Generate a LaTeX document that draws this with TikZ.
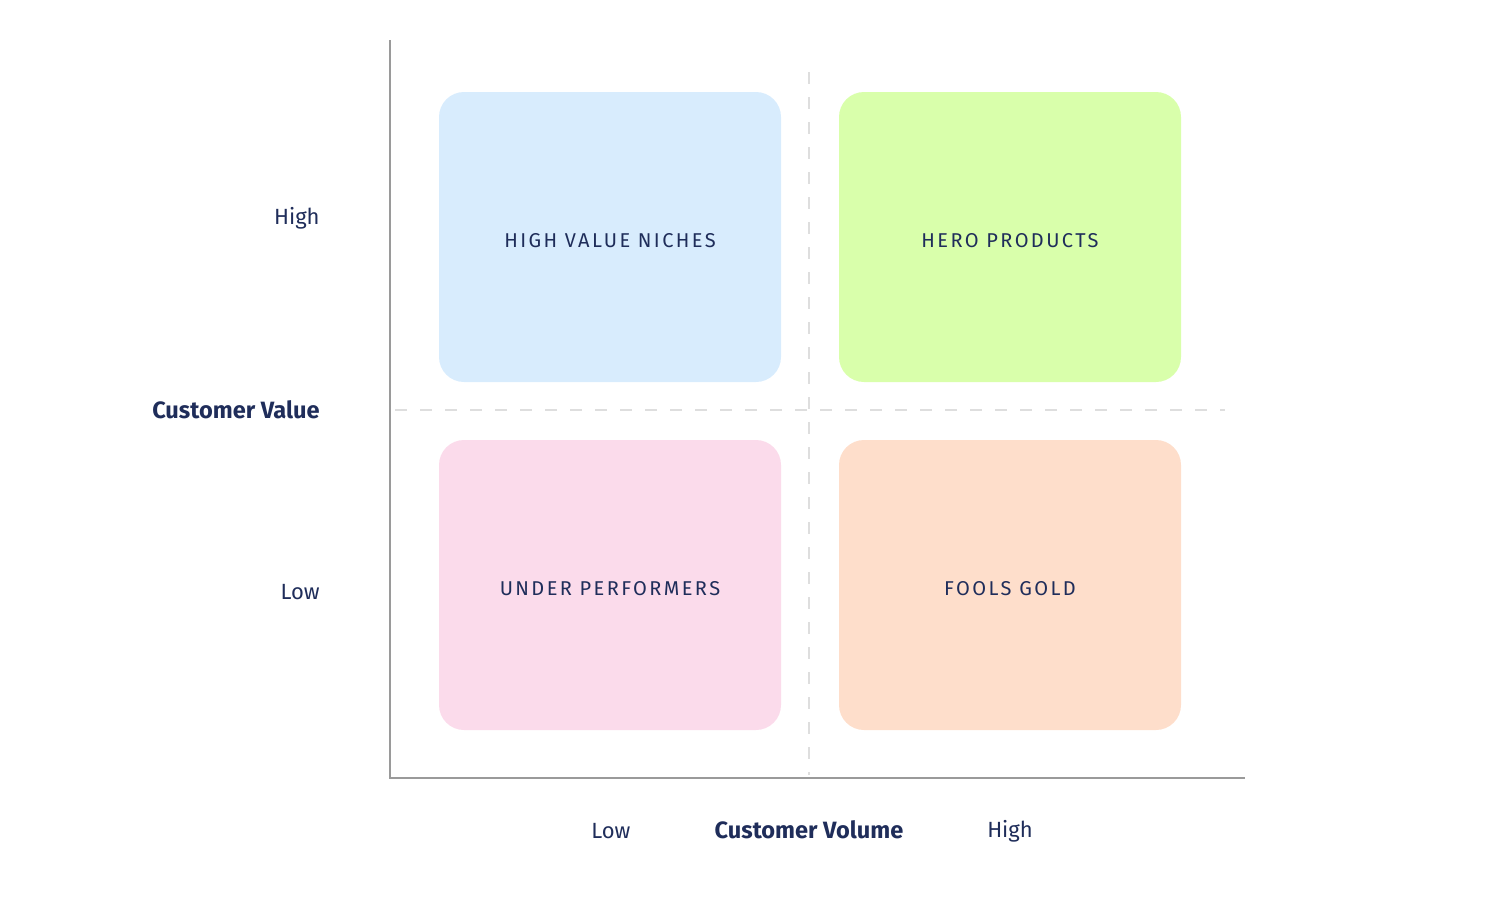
\documentclass[tikz,border=0pt]{standalone}
\usepackage{fontspec}
\setmainfont{Fira Sans}
\newfontfamily\spacedfont[LetterSpace=12]{Fira Sans}
\definecolor{navy}{HTML}{1F2D5A}
\definecolor{axisgray}{HTML}{9A9A9A}
\definecolor{dashgray}{HTML}{DEDEDE}
\definecolor{qblue}{HTML}{D8ECFD}
\definecolor{qgreen}{HTML}{D9FFAB}
\definecolor{qpink}{HTML}{FBDBEB}
\definecolor{qorange}{HTML}{FEDECB}
\tikzset{
  quad/.style={rounded corners=12.5pt, minimum width=171pt, minimum height=145pt, inner sep=0pt, text=navy, text height=10pt, text depth=0pt, font=\spacedfont\fontsize{10}{12}\selectfont},
  axislbl/.style={text=navy, font=\fontsize{11}{13}\selectfont, inner sep=0pt},
  axistitle/.style={text=navy, font=\bfseries\fontsize{11.8}{14}\selectfont, inner sep=0pt},
  axisline/.style={draw=axisgray, line width=1pt},
  divline/.style={draw=dashgray, line width=0.8pt, dash pattern=on 6pt off 6.5pt}
}
\begin{document}
\begin{tikzpicture}[x=0.5pt,y=-0.5pt]
\useasboundingbox (0,0) rectangle (1500,900);
% dashed dividers
\coordinate (vtop) at (809,72);
\coordinate (vbot) at (809,775);
\coordinate (hleft) at (395,410);
\coordinate (hright) at (1225,410);
\draw[divline] (vtop) -- (vbot);
\draw[divline] (hleft) -- (hright);
% quadrants
\node[quad, fill=qblue] (hv) at (610,237) {HIGH VALUE NICHES};
\node[quad, fill=qgreen] (hp) at (1010,237) {HERO PRODUCTS};
\node[quad, fill=qpink] (up) at (610,585) {UNDER PERFORMERS};
\node[quad, fill=qorange] (fg) at (1010,585) {FOOLS GOLD};
% axes
\coordinate (ytop) at (390,40);
\coordinate (origin) at (390,778);
\coordinate (xend) at (1245,778);
\draw[axisline] (ytop) -- (origin) -- (xend);
% y labels
\node[axislbl, anchor=east] (yhigh) at (320,218) {High};
\node[axistitle, anchor=east] (ytitle) at (320,410) {Customer Value};
\node[axislbl, anchor=east] (ylow) at (320,592) {Low};
% x labels
\node[axislbl] (xlow) at (611,831) {Low};
\node[axistitle] (xtitle) at (809,830) {Customer Volume};
\node[axislbl] (xhigh) at (1010,831) {High};
\end{tikzpicture}
\end{document}
